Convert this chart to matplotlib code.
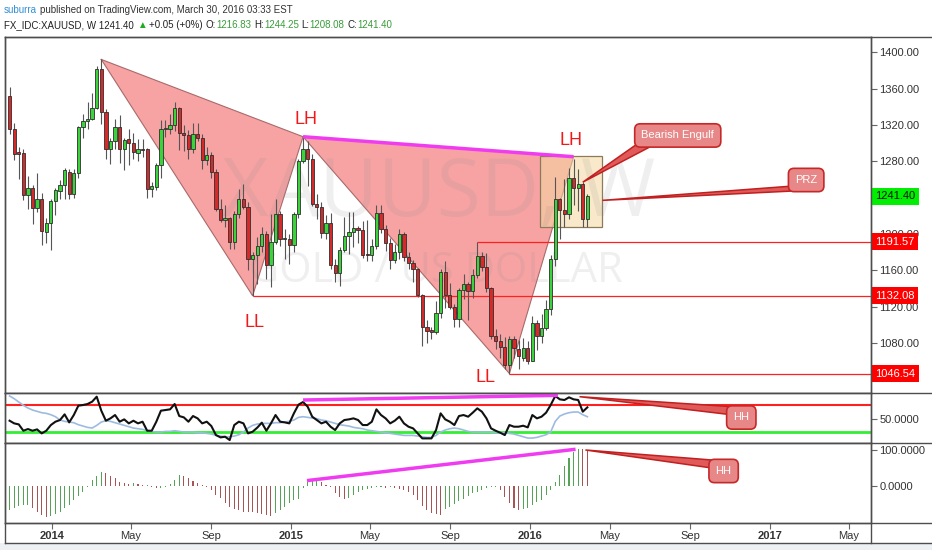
import matplotlib
matplotlib.use("Agg")
import matplotlib.pyplot as plt
import matplotlib.dates as mdates
from matplotlib.patches import Polygon, Rectangle
from matplotlib.lines import Line2D
from matplotlib.transforms import IdentityTransform, blended_transform_factory
from matplotlib.ticker import FixedLocator, FormatStrFormatter
import numpy as np
import pandas as pd

plt.rcParams['font.family'] = ['Liberation Sans', 'DejaVu Sans']

# weekly bars (Monday dates)
weeks = pd.date_range("2013-10-28", periods=127, freq="7D")

opens = [1352, 1315, 1290, 1289, 1243, 1251, 1229, 1238, 1202, 1212,
         1236, 1247, 1254, 1268, 1244, 1267, 1318, 1324, 1326, 1339,
         1382, 1334, 1293, 1302, 1318, 1294, 1304, 1300, 1289, 1293,
         1293, 1250, 1252, 1276, 1316, 1316, 1320, 1339, 1311, 1309,
         1294, 1310, 1306, 1281, 1287, 1268, 1228, 1215, 1218, 1191,
         1222, 1238, 1230, 1172, 1177, 1187, 1200, 1166, 1191, 1222,
         1195, 1195, 1188, 1222, 1280, 1294, 1283, 1233, 1230, 1201,
         1212, 1166, 1157, 1182, 1198, 1202, 1207, 1204, 1178, 1177,
         1187, 1223, 1205, 1190, 1171, 1180, 1200, 1175, 1168, 1162,
         1133, 1098, 1094, 1092, 1113, 1158, 1133, 1120, 1106, 1138,
         1145, 1137, 1155, 1176, 1164, 1141, 1088, 1082, 1076, 1056,
         1085, 1074, 1064, 1075, 1060, 1102, 1088, 1097, 1117, 1173,
         1238, 1226, 1222, 1262, 1251, 1255, 1216.83]
highs = [1362, 1322, 1296, 1294, 1264, 1254, 1267, 1245, 1218, 1239,
         1251, 1259, 1273, 1272, 1271, 1319, 1332, 1345, 1355, 1385,
         1392, 1337, 1306, 1327, 1331, 1306, 1316, 1311, 1305, 1305,
         1295, 1257, 1278, 1325, 1325, 1332, 1345, 1340, 1320, 1314,
         1322, 1322, 1310, 1296, 1290, 1272, 1238, 1232, 1219, 1225,
         1249, 1255, 1235, 1180, 1197, 1208, 1203, 1222, 1238, 1225,
         1205, 1200, 1224, 1283, 1308, 1302, 1288, 1244, 1235, 1221,
         1223, 1172, 1186, 1219, 1224, 1224, 1209, 1214, 1215, 1194,
         1232, 1232, 1210, 1196, 1189, 1205, 1202, 1180, 1171, 1163,
         1134, 1105, 1098, 1126, 1162, 1170, 1146, 1123, 1141, 1156,
         1147, 1162, 1191.57, 1180, 1179, 1142, 1095, 1090, 1087, 1088,
         1088, 1083, 1086, 1082, 1110, 1105, 1112, 1127, 1177, 1263,
         1240, 1261, 1273, 1283, 1272, 1257, 1244.25]
lows = [1310, 1281, 1261, 1237, 1227, 1211, 1224, 1188, 1190, 1182,
        1221, 1238, 1238, 1238, 1240, 1262, 1306, 1316, 1325, 1337,
        1321, 1282, 1277, 1294, 1278, 1270, 1276, 1283, 1280, 1285,
        1240, 1241, 1248, 1262, 1307, 1310, 1313, 1292, 1291, 1282,
        1289, 1302, 1272, 1276, 1262, 1225, 1213, 1208, 1183, 1183,
        1218, 1228, 1160, 1132, 1145, 1180, 1150, 1142, 1189, 1187,
        1172, 1167, 1180, 1218, 1278, 1253, 1231, 1216, 1196, 1194,
        1162, 1147, 1143, 1180, 1178, 1186, 1190, 1174, 1170, 1170,
        1183, 1201, 1181, 1162, 1168, 1173, 1170, 1162, 1147, 1131,
        1077, 1080, 1084, 1090, 1108, 1119, 1118, 1098, 1098, 1129,
        1105, 1130, 1152, 1159, 1136, 1084, 1074, 1064, 1052, 1046.54,
        1064, 1051, 1060, 1057, 1060, 1072, 1080, 1094, 1111, 1165,
        1195, 1208, 1216, 1232, 1225, 1208, 1208.08]
closes = [1315, 1288, 1288, 1243, 1251, 1229, 1238, 1203, 1212, 1236,
          1248, 1254, 1270, 1244, 1267, 1318, 1324, 1326, 1339, 1382,
          1334, 1293, 1302, 1318, 1294, 1303, 1300, 1290, 1293, 1292,
          1250, 1253, 1276, 1315, 1316, 1320, 1339, 1311, 1309, 1294,
          1310, 1306, 1281, 1287, 1268, 1228, 1215, 1218, 1191, 1222,
          1238, 1230, 1172, 1177, 1187, 1200, 1166, 1191, 1222, 1195,
          1195, 1188, 1222, 1280, 1294, 1283, 1233, 1230, 1201, 1212,
          1166, 1157, 1182, 1198, 1202, 1207, 1204, 1177, 1177, 1187,
          1223, 1205, 1190, 1171, 1180, 1200, 1175, 1168, 1162, 1133,
          1098, 1093, 1092, 1113, 1158, 1133, 1120, 1106, 1138, 1145,
          1137, 1155, 1176, 1164, 1141, 1088, 1082, 1076, 1056, 1085,
          1075, 1066, 1075, 1060, 1102, 1088, 1097, 1117, 1173, 1238,
          1226, 1222, 1262, 1251, 1255, 1216.8, 1241.40]

# RSI pane: black line and light blue line
rsi = [47, 43, 41.5, 32, 34.5, 32, 34, 28, 32, 40.5,
       45.5, 48, 56.5, 44.5, 55.5, 69.5, 70.5, 72, 75.5, 83,
       62, 47, 50.5, 55.5, 45.5, 49, 43, 47, 43, 45.5,
       32, 32, 45.5, 62, 63, 64, 72, 54, 52, 45.5,
       54, 50.5, 43, 45.5, 39, 25.5, 22, 23, 18, 40.5,
       45.5, 43, 28, 30.5, 36.5, 44, 32, 43, 55.5, 45.5,
       44.5, 43, 58, 71, 75, 68, 53, 48, 43, 45.5,
       38, 33, 43, 48, 49, 50.5, 48, 40.5, 40.5, 45.5,
       64, 55.5, 50.5, 43, 47, 53, 43, 38, 35.5, 28,
       20.5, 20.5, 20.5, 33, 58, 49, 45.5, 40.5, 54, 55.5,
       53, 59, 65.5, 60.5, 50.5, 35.5, 32, 29, 25.5, 40.5,
       38, 38, 39.5, 37, 55.5, 50.5, 53, 59, 70.5, 84,
       79, 78, 82, 79, 78, 60.5, 67]
rsi_slow = [84, 80, 75, 70, 66, 63, 61, 59, 58, 56,
            53, 48, 46, 45, 44, 41, 39, 37, 36, 40,
            45, 47, 46, 44, 42, 40, 38, 36, 35, 34,
            32, 31, 30, 30, 31, 31, 32, 31, 30, 30,
            30, 29, 29, 28, 27, 25, 24, 23, 23, 24,
            26, 30, 36, 40, 42, 43, 43, 43, 44, 44,
            45, 46, 48, 52, 53, 52, 51, 50, 48, 47,
            45, 43, 41, 40, 39, 37, 36, 35, 33, 32,
            31, 30, 29, 28, 27, 26, 25, 25, 25, 24,
            23, 22, 22, 25, 30, 33, 35, 36, 35, 33,
            31, 30, 30, 30, 30, 30, 29, 29, 29, 28,
            27, 25, 23, 21, 21, 22, 24, 26, 30, 46,
            54, 57, 59, 60, 60, 56, 53]

# oscillator histogram pane
osc = [-66, -60, -55, -53, -52, -62, -72, -80, -87, -83,
       -78, -71, -62, -53, -39, -28, -16, -4, 17, 28,
       40, 37, 28, 21, 12, 7, 5, 7, 5, 3,
       3, -2, -6, -6, -2, 5, 18, 30, 28, 21,
       15, 7, 3, -4, -11, -25, -34, -48, -59, -65,
       -68, -71, -72, -73, -76, -78, -80, -83, -76, -67,
       -57, -48, -39, -35, -6, 10, 15, 15, 10, 2,
       -2, -20, -30, -35, -32, -25, -18, -10, -8, -5,
       -4, -4, -5, -3, -5, -8, -12, -18, -25, -40,
       -55, -68, -75, -78, -80, -65, -58, -50, -43, -37,
       -28, -20, -16, -10, -6, -3, -2, -12, -30, -47,
       -60, -66, -64, -62, -53, -44, -39, -25, -10, 12,
       30, 55, 78, 95, 104, 102, 101]

# drawings
pattern_dates = ["2014-03-17", "2014-11-03", "2015-01-19", "2015-11-30", "2016-03-07"]
pattern_prices = [1392, 1132.08, 1307, 1046.54, 1285]
level_prices = [1191.57, 1132.08, 1046.54]
level_starts = ["2015-10-12", "2014-11-03", "2015-11-30"]
last_price = 1241.40
prz_dates = ["2016-01-15", "2016-04-20"]
prz_prices = [1207.5, 1285.8]
rsi_div_dates = ["2015-01-19", "2016-02-12"]
rsi_div_vals = [78, 85]
osc_div_dates = ["2015-01-25", "2016-03-10"]
osc_div_vals = [15, 102]

# 1240.00 sits fully under the last-price tag, so it is left out
price_ticks = [1080, 1120, 1160, 1200, 1280, 1320, 1360, 1400]
month_ticks = ["2014-01-01", "2014-05-01", "2014-09-01", "2015-01-01", "2015-05-01",
               "2015-09-01", "2016-01-01", "2016-05-01", "2016-09-01", "2017-01-01",
               "2017-05-01"]
month_labels = ["2014", "May", "Sep", "2015", "May", "Sep", "2016", "May", "Sep",
                "2017", "May"]

UP = '#3ad43a'
DOWN = '#d62a2a'
EDGE = '#4d4d4d'
RED_LINE = '#ff2020'

W, H = 932, 550
fig = plt.figure(figsize=(W / 100, H / 100), dpi=100)
fig.patch.set_facecolor('white')


def px_axes(x0, y0, x1, y1):
    return fig.add_axes([x0 / W, 1 - y1 / H, (x1 - x0) / W, (y1 - y0) / H])


ax = px_axes(5, 37, 871, 393)
ax_rsi = px_axes(5, 393, 871, 443)
ax_osc = px_axes(5, 443, 871, 523)

xmin = mdates.date2num(pd.Timestamp("2013-10-21"))
xmax = mdates.date2num(pd.Timestamp("2017-06-04"))
for a in (ax, ax_rsi, ax_osc):
    a.set_xlim(xmin, xmax)
    for s in a.spines.values():
        s.set_color(EDGE)
        s.set_linewidth(1)
    a.tick_params(axis='x', bottom=False, labelbottom=False)
    a.yaxis.tick_right()
    a.tick_params(axis='y', direction='out', length=4, width=0.8, color='#666666',
                  labelsize=8, labelcolor='#333333', pad=2)
ax.set_ylim(1025.1, 1416.7)
ax_rsi.set_ylim(13.6, 88.5)
ax_osc.set_ylim(-102.8, 119.4)

x = mdates.date2num(weeks)
o = np.array(opens, float)
c = np.array(closes, float)

# ---- harmonic pattern triangles ----
px = mdates.date2num(pd.to_datetime(pattern_dates))
ax.fill(px[0:3], pattern_prices[0:3], color='#f04848', alpha=0.5, lw=0, zorder=1)
ax.fill(px[2:5], pattern_prices[2:5], color='#f04848', alpha=0.5, lw=0, zorder=1)
ax.plot(list(px[0:3]) + [px[0]], pattern_prices[0:3] + [pattern_prices[0]],
        color='#a86a6a', lw=0.8, zorder=1.1)
ax.plot(list(px[2:5]) + [px[2]], pattern_prices[2:5] + [pattern_prices[2]],
        color='#a86a6a', lw=0.8, zorder=1.1)

# PRZ box
bx = mdates.date2num(pd.to_datetime(prz_dates))
ax.add_patch(Rectangle((bx[0], prz_prices[0]), bx[1] - bx[0], prz_prices[1] - prz_prices[0],
                       facecolor='#f5d7a0', alpha=0.55, edgecolor='none', zorder=1.2))
ax.add_patch(Rectangle((bx[0], prz_prices[0]), bx[1] - bx[0], prz_prices[1] - prz_prices[0],
                       facecolor='none', edgecolor='#8c7b5a', lw=0.9, zorder=1.3))

# watermark
ax.text(0.501, 0.497, "XAUUSD, W", transform=ax.transAxes, ha='center', va='baseline',
        fontsize=58, color='#888888', alpha=0.13, family='Open Sans', zorder=1.5)
ax.text(0.497, 0.312, "GOLD / US DOLLAR", transform=ax.transAxes, ha='center', va='baseline',
        fontsize=30, color='#888888', alpha=0.13, family='Open Sans', zorder=1.5)

# horizontal levels
for p, s in zip(level_prices, level_starts):
    ax.hlines(p, mdates.date2num(pd.Timestamp(s)), xmax, color=RED_LINE, lw=0.9, zorder=2)

# candles
cols = [UP if cc >= oo else DOWN for oo, cc in zip(o, c)]
ax.vlines(x, lows, highs, color='#555555', lw=0.8, zorder=2.5)
ax.bar(x, np.maximum(np.abs(c - o), 1.0), bottom=np.minimum(o, c), width=5,
       color=cols, edgecolor='#2e2e2e', linewidth=0.6, zorder=3)

# divergence line on price
ax.plot(px[[2, 4]], [pattern_prices[2], pattern_prices[4]], color='#f03cf0', lw=2.5,
        zorder=4, solid_capstyle='butt')

# LL / LH labels
for d, p, t in [("2015-01-24", 1326.5, "LH"), ("2016-03-03", 1303, "LH"),
                ("2014-11-06", 1103, "LL"), ("2015-10-24", 1042.7, "LL")]:
    ax.text(mdates.date2num(pd.Timestamp(d)), p, t, color='#f01818', fontsize=13,
            ha='center', va='center', zorder=5)

# right axis ticks
ax.yaxis.set_major_locator(FixedLocator(price_ticks))
ax.yaxis.set_major_formatter(FormatStrFormatter('%.2f'))
trans = blended_transform_factory(ax.transAxes, ax.transData)
for p in level_prices:
    ax.text(1.005, p, f"{p:.2f}", transform=trans, ha='left', va='center', fontsize=8,
            color='white', clip_on=False, zorder=10,
            bbox=dict(boxstyle='square,pad=0.3', fc='#ff0000', ec='none'))
ax.text(1.005, last_price, f"{last_price:.2f}", transform=trans, ha='left', va='center',
        fontsize=8, color='#111111', clip_on=False, zorder=10,
        bbox=dict(boxstyle='square,pad=0.3', fc='#00ee00', ec='none'))

# ---- RSI pane ----
ax_rsi.axhline(70, color=RED_LINE, lw=1.5, zorder=1)
ax_rsi.axhline(30, color='#33ee33', lw=2, zorder=1)
ax_rsi.plot(x, rsi_slow, color='#9dbbe0', lw=1.2, zorder=2)
ax_rsi.plot(x, rsi, color='#111111', lw=1.5, zorder=3)
ax_rsi.plot(mdates.date2num(pd.to_datetime(rsi_div_dates)), rsi_div_vals, color='#f03cf0',
            lw=2.5, zorder=4, solid_capstyle='butt')
ax_rsi.yaxis.set_major_locator(FixedLocator([50]))
ax_rsi.yaxis.set_major_formatter(FormatStrFormatter('%.4f'))

# ---- oscillator pane ----
osc_cols = ['#55a355' if i == 0 or osc[i] >= osc[i - 1] else '#a85454' for i in range(len(osc))]
ax_osc.bar(x, osc, width=1.6, color=osc_cols, lw=0, zorder=2)
ax_osc.plot(mdates.date2num(pd.to_datetime(osc_div_dates)), osc_div_vals, color='#f03cf0',
            lw=2.5, zorder=4, solid_capstyle='butt')
ax_osc.yaxis.set_major_locator(FixedLocator([0, 100]))
ax_osc.yaxis.set_major_formatter(FormatStrFormatter('%.4f'))

ax_osc.set_xticks(mdates.date2num(pd.to_datetime(month_ticks)))
ax_osc.set_xticklabels(month_labels)
ax_osc.tick_params(axis='x', bottom=True, labelbottom=True, direction='out', length=4,
                   width=0.8, color='#666666', labelsize=8, labelcolor='#333333', pad=2)
for lab in ax_osc.get_xticklabels():
    if lab.get_text().isdigit():
        lab.set_fontweight('bold')


# ---- callouts ----
def callout(a, text, box_xy, tip_xy, base_off):
    bxy = (mdates.date2num(pd.Timestamp(box_xy[0])), box_xy[1])
    txy = (mdates.date2num(pd.Timestamp(tip_xy[0])), tip_xy[1])
    bdx, bdy = a.transData.transform(bxy)
    tdx, tdy = a.transData.transform(txy)
    pts = [(tdx, tdy)] + [(bdx + dx, bdy + dy) for dx, dy in base_off]
    a.add_patch(Polygon(pts, closed=True, transform=IdentityTransform(), fc='#e05a5a',
                        ec='#c0201f', lw=1.1, zorder=8, clip_on=False))
    a.text(bxy[0], bxy[1], text, ha='center', va='center', color='white', fontsize=8,
           zorder=9, clip_on=False,
           bbox=dict(boxstyle='round,pad=0.6,rounding_size=0.5', fc='#e88787',
                     ec='#c62828', lw=1.2))


callout(ax, "Bearish Engulf", ("2016-08-13", 1308.4), ("2016-03-21", 1257),
        [(-37, -6), (-27, -11)])
callout(ax, "PRZ", ("2017-02-25", 1259.4), ("2016-04-20", 1237),
        [(-13, -6), (-13, -11)])
callout(ax_rsi, "HH", ("2016-11-18", 51.8), ("2016-03-16", 83),
        [(-12, 11), (-12, 3)])
callout(ax_osc, "HH", ("2016-10-22", 41.7), ("2016-03-25", 100),
        [(-12, 11), (-12, 3)])

# ---- frame lines across the price scale ----
for yy in [37, 393, 443, 523, 543]:
    fig.add_artist(Line2D([5 / W, 1], [1 - yy / H] * 2, color=EDGE, lw=1))
for xx in [5, 871]:
    fig.add_artist(Line2D([xx / W] * 2, [1 - 543 / H, 1 - 37 / H], color=EDGE, lw=1))
fig.add_artist(Rectangle((0, 0), 1, 7 / H, transform=fig.transFigure, color='#eef1f4', lw=0))

# ---- header ----
renderer = fig.canvas.get_renderer()


def draw_pieces(pieces, x0, y0, size):
    xx = x0
    for s, col, gap in pieces:
        t = fig.text(xx / W, 1 - y0 / H, s, color=col, fontsize=size, ha='left', va='center')
        xx += t.get_window_extent(renderer).width + gap


DARK = '#333333'
GRN = '#3a9c3a'
draw_pieces([("suburra", '#2f8fd8', 3),
             ("published on TradingView.com, March 30, 2016 03:33 EST", DARK, 0)], 4, 10, 7)
draw_pieces([("FX_IDC:XAUUSD, W 1241.40", '#222222', 3), ("\u25b2", '#22aa22', 3),
             ("+0.05 (+0%)", '#222222', 3), ("O:", '#222222', 0), ("1216.83", GRN, 3),
             ("H:", '#222222', 0), ("1244.25", GRN, 3), ("L:", '#222222', 0),
             ("1208.08", GRN, 3), ("C:", '#222222', 0), ("1241.40", GRN, 0)], 4, 25, 7)

fig.savefig("out.png", dpi=100)
